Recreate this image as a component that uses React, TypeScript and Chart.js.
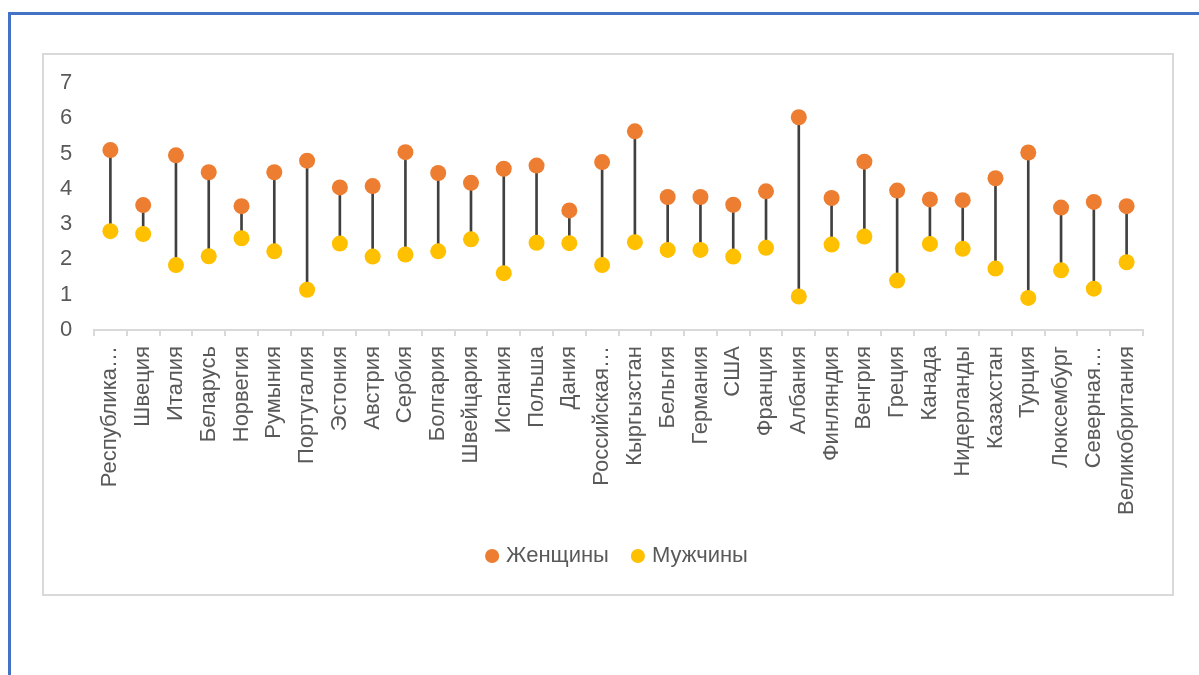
import React, { useEffect, useRef } from "react";
import { Chart, registerables } from "chart.js";

Chart.register(...registerables);

const countries = [
  "Республика…", "Швеция", "Италия", "Беларусь", "Норвегия", "Румыния", "Португалия", "Эстония",
  "Австрия", "Сербия", "Болгария", "Швейцария", "Испания", "Польша", "Дания", "Российская…",
  "Кыргызстан", "Бельгия", "Германия", "США", "Франция", "Албания", "Финляндия", "Венгрия",
  "Греция", "Канада", "Нидерланды", "Казахстан", "Турция", "Люксембург", "Северная…", "Великобритания",
];

const women = [
  5.10, 3.54, 4.95, 4.47, 3.51, 4.47, 4.80, 4.04,
  4.08, 5.04, 4.45, 4.17, 4.57, 4.66, 3.39, 4.76,
  5.63, 3.77, 3.77, 3.55, 3.93, 6.03, 3.74, 4.77,
  3.95, 3.70, 3.68, 4.30, 5.03, 3.47, 3.63, 3.51,
];

const men = [
  2.80, 2.72, 1.84, 2.09, 2.60, 2.23, 1.14, 2.45,
  2.08, 2.14, 2.23, 2.57, 1.61, 2.47, 2.46, 1.84,
  2.49, 2.27, 2.27, 2.08, 2.33, 0.95, 2.42, 2.65,
  1.40, 2.44, 2.30, 1.74, 0.91, 1.69, 1.17, 1.92,
];

const yMin = 0;
const yMax = 7;
const yStep = 1;

const FONT = "'Liberation Sans', Arial, sans-serif";
const TEXT = "#595959";

export default function App() {
  const ref = useRef<HTMLCanvasElement>(null);

  useEffect(() => {
    if (!ref.current) return;
    const ranges = men.map((m, i) => [m, women[i]]);
    const chart = new Chart(ref.current, {
      type: "bar",
      data: {
        labels: countries,
        datasets: [
          {
            type: "bar",
            label: "range",
            data: ranges as any,
            backgroundColor: "#404040",
            borderWidth: 0,
            barThickness: 2,
            order: 3,
          } as any,
          {
            type: "line",
            label: "Женщины",
            data: women,
            showLine: false,
            pointRadius: 8,
            pointHoverRadius: 8,
            pointBorderWidth: 0,
            pointBackgroundColor: "#ED7D31",
            backgroundColor: "#ED7D31",
            borderColor: "#ED7D31",
            order: 1,
          } as any,
          {
            type: "line",
            label: "Мужчины",
            data: men,
            showLine: false,
            pointRadius: 8,
            pointHoverRadius: 8,
            pointBorderWidth: 0,
            pointBackgroundColor: "#FFC000",
            backgroundColor: "#FFC000",
            borderColor: "#FFC000",
            order: 2,
          } as any,
        ],
      },
      options: {
        animation: false,
        responsive: false,
        maintainAspectRatio: false,
        layout: { padding: { top: 28, right: 29, bottom: 17, left: 16 } },
        plugins: {
          tooltip: { enabled: false },
          legend: {
            position: "bottom",
            fullSize: false,
            labels: {
              filter: (item: any) => item.datasetIndex !== 0,
              usePointStyle: true,
              pointStyle: "circle",
              boxWidth: 6,
              boxHeight: 10,
              padding: 26,
              color: TEXT,
              font: { family: FONT, size: 22 },
            },
          },
        },
        scales: {
          x: {
            offset: true,
            grid: {
              display: true,
              offset: true,
              drawOnChartArea: false,
              drawTicks: true,
              tickLength: 6,
              color: "#d9d9d9",
              lineWidth: 2,
            },
            border: { display: true, color: "#d9d9d9", width: 2 },
            ticks: {
              autoSkip: false,
              minRotation: 90,
              maxRotation: 90,
              padding: 10,
              color: TEXT,
              font: { family: FONT, size: 22 },
            },
            afterFit: (scale: any) => {
              scale.height = 189;
            },
          },
          y: {
            min: yMin,
            max: yMax,
            grid: { display: false, drawTicks: false },
            border: { display: false },
            ticks: {
              stepSize: yStep,
              padding: 0,
              crossAlign: "far",
              color: TEXT,
              font: { family: FONT, size: 22 },
            },
            afterFit: (scale: any) => {
              scale.width = 34;
            },
          },
        },
      },
    });
    return () => chart.destroy();
  }, []);

  return (
    <div style={{ position: "absolute", left: 0, top: 0, width: 1199, height: 675, background: "#fff" }}>
      <div
        style={{
          position: "absolute",
          left: 8,
          top: 12,
          width: 1191,
          height: 663,
          boxSizing: "border-box",
          borderTop: "3px solid #4472C4",
          borderLeft: "3px solid #4472C4",
        }}
      />
      <div
        style={{
          position: "absolute",
          left: 42,
          top: 53,
          width: 1132,
          height: 543,
          boxSizing: "border-box",
          border: "2px solid #d9d9d9",
          background: "#fff",
        }}
      >
        <canvas ref={ref} width={1128} height={539} style={{ display: "block", width: 1128, height: 539 }} />
      </div>
    </div>
  );
}
